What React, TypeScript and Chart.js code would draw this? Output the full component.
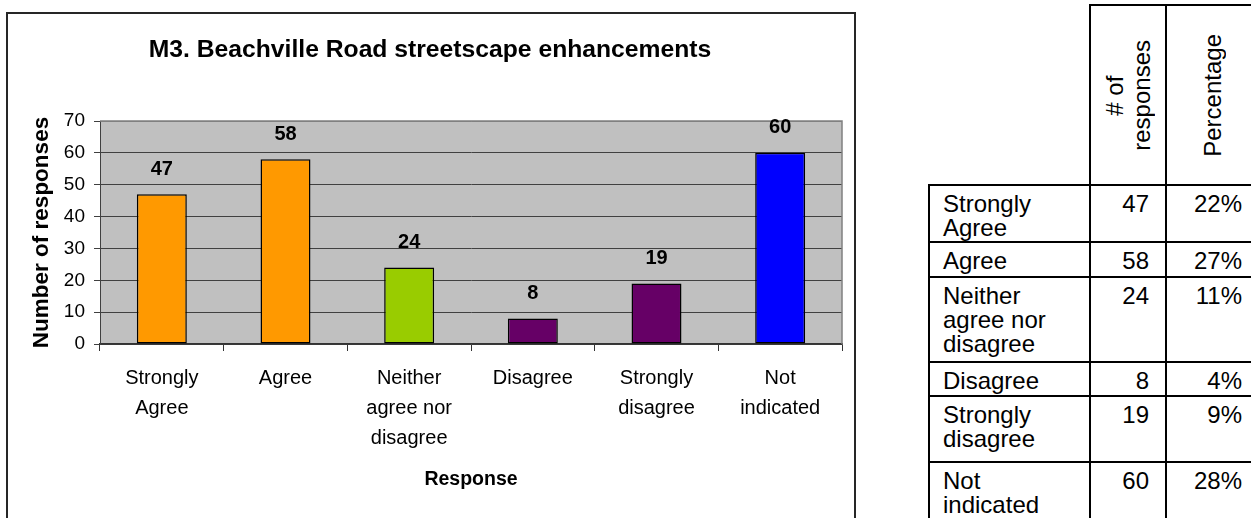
import React, { useEffect, useRef } from 'react';
import { Chart, registerables } from 'chart.js';

Chart.register(...registerables);

const FONT = '"Liberation Sans", Arial, Helvetica, sans-serif';

const chartTitle = 'M3. Beachville Road streetscape enhancements';
const categories: string[][] = [
  ['Strongly', 'Agree'],
  ['Agree'],
  ['Neither', 'agree nor', 'disagree'],
  ['Disagree'],
  ['Strongly', 'disagree'],
  ['Not', 'indicated'],
];
const responses = [47, 58, 24, 8, 19, 60];
const percentages = ['22%', '27%', '11%', '4%', '9%', '28%'];
const barColors = ['#FF9900', '#FF9900', '#99CC00', '#660066', '#660066', '#0000FF'];
const yMin = 0;
const yMax = 70;
const yStep = 10;
const yAxisTitle = 'Number of responses';
const xAxisTitle = 'Response';
const tableHeaders: string[][] = [['# of', 'responses'], ['Percentage']];

// table grid (layout only)
const colX = [929, 1090, 1166, 1259];
const headerTop = 5;
const rowY = [185, 242, 277, 362, 396, 462, 540];

const plotPlugin = {
  id: 'plotDecor',
  beforeDraw(chart: any) {
    const { ctx, chartArea } = chart;
    const { left, top, right, bottom } = chartArea;
    ctx.save();
    ctx.fillStyle = '#C0C0C0';
    ctx.fillRect(left, top, right - left, bottom - top);
    ctx.font = `bold 24.7px ${FONT}`;
    ctx.fillStyle = '#000';
    ctx.textAlign = 'center';
    ctx.textBaseline = 'middle';
    ctx.fillText(chartTitle, 422, 36);
    ctx.restore();
  },
  beforeDatasetsDraw(chart: any) {
    const { ctx, chartArea } = chart;
    const { left, top, right, bottom } = chartArea;
    ctx.save();
    ctx.strokeStyle = '#808080';
    ctx.lineWidth = 1.5;
    ctx.beginPath();
    ctx.moveTo(left, top);
    ctx.lineTo(right, top);
    ctx.lineTo(right, bottom);
    ctx.stroke();
    ctx.restore();
  },
  afterDatasetsDraw(chart: any) {
    const { ctx } = chart;
    const meta = chart.getDatasetMeta(0);
    ctx.save();
    ctx.font = `bold 20px ${FONT}`;
    ctx.fillStyle = '#000';
    ctx.textAlign = 'center';
    ctx.textBaseline = 'middle';
    meta.data.forEach((bar: any, i: number) => {
      ctx.fillText(String(responses[i]), bar.x, bar.y - 25);
    });
    ctx.restore();
  },
};

function BarChart() {
  const ref = useRef<HTMLCanvasElement | null>(null);
  useEffect(() => {
    if (!ref.current) return;
    Chart.defaults.font.family = FONT;
    const chart = new Chart(ref.current, {
      type: 'bar',
      data: {
        labels: categories,
        datasets: [
          {
            data: responses,
            backgroundColor: barColors,
            borderColor: '#000',
            borderWidth: 1.5,
            borderSkipped: false,
            barPercentage: 0.404,
            categoryPercentage: 1,
          },
        ],
      },
      options: {
        responsive: false,
        animation: false,
        layout: { padding: { left: 0, right: 12, top: 107, bottom: 0 } },
        plugins: {
          legend: { display: false },
          tooltip: { enabled: false },
          title: { display: false },
        },
        scales: {
          x: {
            type: 'category',
            offset: true,
            grid: {
              offset: true,
              drawOnChartArea: false,
              drawTicks: true,
              tickLength: 7,
              color: '#333',
              lineWidth: 1,
            },
            border: { display: true, color: '#333', width: 1.5 },
            ticks: {
              color: '#000',
              font: { size: 20, lineHeight: 1.5, family: FONT },
              padding: 12,
              maxRotation: 0,
              autoSkip: false,
            },
            title: {
              display: true,
              text: xAxisTitle,
              color: '#000',
              font: { size: 19.5, weight: 'bold', lineHeight: 1.2, family: FONT },
              padding: { top: 0, bottom: 26.3 },
            },
            afterFit: (s: any) => {
              s.height = 174;
            },
          },
          y: {
            min: yMin,
            max: yMax,
            ticks: {
              stepSize: yStep,
              color: '#000',
              font: { size: 19, family: FONT },
              padding: 9,
            },
            grid: {
              color: (c: any) => (c.tick && c.tick.value === yMax ? '#808080' : '#404040'),
              tickColor: '#404040',
              tickLength: 6,
              lineWidth: 1,
              drawTicks: true,
            },
            border: { display: true, color: '#404040', width: 1 },
            title: {
              display: true,
              text: yAxisTitle,
              color: '#000',
              font: { size: 22.5, weight: 'bold', lineHeight: 1.2, family: FONT },
              padding: { top: 20.5, bottom: 0 },
            },
            afterFit: (s: any) => {
              s.width = 92;
            },
          },
        },
      } as any,
      plugins: [plotPlugin],
    });
    return () => chart.destroy();
  }, []);
  return (
    <canvas
      ref={ref}
      width={846}
      height={504}
      style={{ position: 'absolute', left: 8, top: 14, width: 846, height: 504 }}
    />
  );
}

function cellStyle(x0: number, x1: number, y0: number, y1: number): React.CSSProperties {
  return {
    position: 'absolute',
    left: x0 - 1,
    top: y0 - 1,
    width: x1 - x0 + 2,
    height: y1 - y0 + 2,
    border: '2px solid #000',
    boxSizing: 'border-box',
    overflow: 'hidden',
  };
}

function DataTable() {
  const textBase: React.CSSProperties = {
    fontFamily: FONT,
    fontSize: 24,
    lineHeight: '24px',
    color: '#000',
  };
  return (
    <div>
      {tableHeaders.map((lines, j) => (
        <div
          key={'h' + j}
          style={{
            ...cellStyle(colX[j + 1], colX[j + 2], headerTop, rowY[0]),
            ...textBase,
            display: 'flex',
            alignItems: 'center',
            justifyContent: 'center',
          }}
        >
          <div style={{ writingMode: 'vertical-rl', transform: 'rotate(180deg)', textAlign: 'center', lineHeight: '27px' }}>
            {lines.map((l, k) => (
              <React.Fragment key={k}>
                {k > 0 && <br />}
                {l}
              </React.Fragment>
            ))}
          </div>
        </div>
      ))}
      {categories.map((lines, i) => (
        <React.Fragment key={'r' + i}>
          <div
            style={{
              ...cellStyle(colX[0], colX[1], rowY[i], rowY[i + 1]),
              ...textBase,
              padding: '6px 0 0 13px',
              whiteSpace: 'pre-line',
            }}
          >
            {lines.join('\n')}
          </div>
          <div
            style={{
              ...cellStyle(colX[1], colX[2], rowY[i], rowY[i + 1]),
              ...textBase,
              padding: '6px 16px 0 0',
              textAlign: 'right',
            }}
          >
            {responses[i]}
          </div>
          <div
            style={{
              ...cellStyle(colX[2], colX[3], rowY[i], rowY[i + 1]),
              ...textBase,
              padding: '6px 16px 0 0',
              textAlign: 'right',
            }}
          >
            {percentages[i]}
          </div>
        </React.Fragment>
      ))}
    </div>
  );
}

export default function App() {
  useEffect(() => {
    document.documentElement.style.overflow = 'hidden';
    document.body.style.overflow = 'hidden';
  }, []);
  return (
    <div
      style={{
        position: 'absolute',
        left: 0,
        top: 0,
        width: 1251,
        height: 518,
        overflow: 'hidden',
        background: '#fff',
        fontFamily: FONT,
      }}
    >
      <div
        style={{
          position: 'absolute',
          left: 6,
          top: 12,
          width: 850,
          height: 530,
          border: '2px solid #262626',
          boxSizing: 'border-box',
        }}
      />
      <BarChart />
      <DataTable />
    </div>
  );
}
